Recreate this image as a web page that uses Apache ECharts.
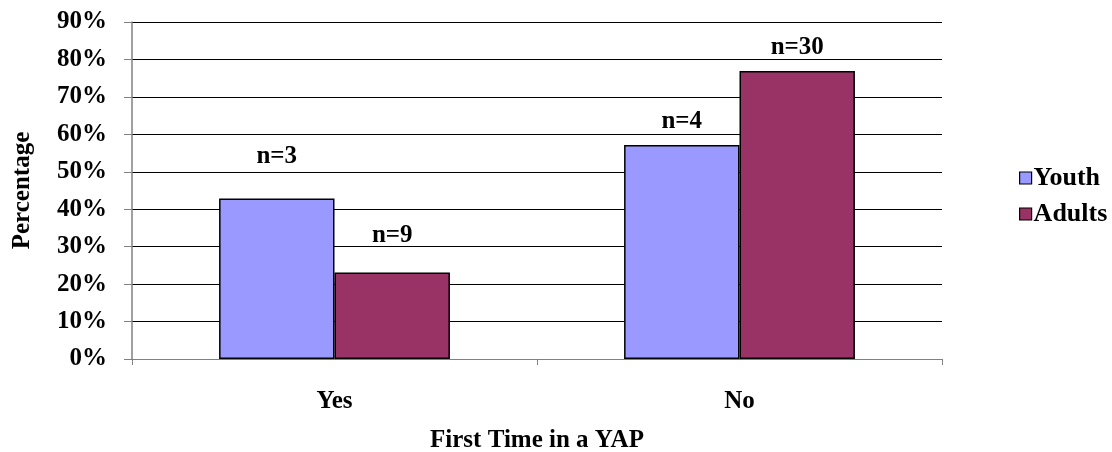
<!DOCTYPE html>
<html>
<head>
<meta charset="utf-8">
<script src="https://cdn.jsdelivr.net/npm/echarts@6/dist/echarts.min.js"></script>
<style>
  html, body { margin: 0; padding: 0; background: #fff; }
  #chart { width: 1112px; height: 452px; }
</style>
</head>
<body>
<div id="chart"></div>
<script>
// Categories and series values (percent of respondents)
const categories = ['Yes', 'No'];
const youthPct = [42.86, 57.14];
const adultPct = [23.08, 76.92];
// Respondent counts shown above each bar
const youthN = [3, 4];
const adultN = [9, 30];
const yTicks = [0, 10, 20, 30, 40, 50, 60, 70, 80, 90];

const FONT = 'Liberation Serif';
const txt = { fontFamily: FONT, fontWeight: 'bold', color: '#000', fontSize: 25 };

// label gaps above each bar (px)
const youthGap = [29, 11];
const adultGap = [25, 11];

function series(name, pct, counts, gaps, color) {
  return {
    name: name,
    type: 'bar',
    barGap: '0%',
    barCategoryGap: '43%',
    itemStyle: { color: color, borderColor: '#000', borderWidth: 1.5 },
    data: pct.map((v, i) => ({
      value: v,
      label: { distance: gaps[i] }
    })),
    label: {
      show: true,
      position: 'top',
      formatter: p => 'n=' + counts[p.dataIndex],
      ...txt
    }
  };
}

const chart = echarts.init(document.getElementById('chart'), null, { renderer: 'canvas' });
chart.setOption({
  animation: false,
  backgroundColor: '#fff',
  grid: { left: 132, right: 170, top: 22, bottom: 93, containLabel: false, outerBoundsMode: 'none' },
  legend: {
    orient: 'vertical',
    left: 1014,
    top: 160,
    itemWidth: 12,
    itemHeight: 12,
    itemGap: 10,
    icon: 'rect',
    itemStyle: { borderColor: '#000', borderWidth: 1.2 },
    textStyle: { ...txt, fontSize: 26, padding: [0, 0, 0, -3] },
    data: ['Youth', 'Adults']
  },
  xAxis: {
    type: 'category',
    data: categories,
    name: 'First Time in a YAP',
    nameLocation: 'middle',
    nameGap: 69,
    nameTextStyle: { ...txt, fontSize: 25 },
    axisLine: { lineStyle: { color: '#808080', width: 1 } },
    axisTick: { show: true, length: 6, lineStyle: { color: '#808080' } },
    axisLabel: { ...txt, fontSize: 25, margin: 30 }
  },
  yAxis: {
    type: 'value',
    min: yTicks[0],
    max: yTicks[yTicks.length - 1],
    interval: 10,
    name: 'Percentage',
    nameLocation: 'middle',
    nameGap: 97,
    nameRotate: 90,
    nameTextStyle: { ...txt, fontSize: 25 },
    axisLine: { show: true, lineStyle: { color: '#808080', width: 1.5 } },
    axisTick: { show: true, length: 8, lineStyle: { color: '#808080' } },
    axisLabel: { ...txt, fontSize: 25, margin: 25, formatter: '{value}%' },
    splitLine: { show: true, lineStyle: { color: '#000', width: 1 } }
  },
  series: [
    series('Youth', youthPct, youthN, youthGap, '#9999FF'),
    series('Adults', adultPct, adultN, adultGap, '#993366')
  ]
});
</script>
</body>
</html>
